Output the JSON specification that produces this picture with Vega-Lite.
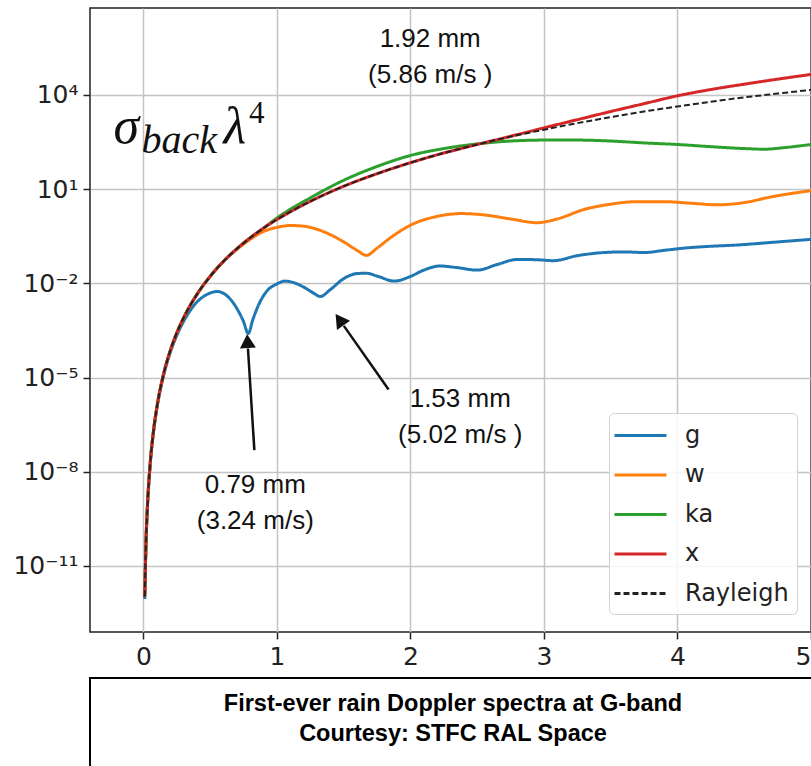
{
  "$schema": "https://vega.github.io/schema/vega-lite/v6.json",
  "background": "white",
  "padding": {"left": 12, "top": 7, "right": 0, "bottom": 0},
  "bounds": "flush",
  "spacing": 46,
  "config": {
    "font": "DejaVu Sans",
    "axis": {"domain": false, "title": null, "grid": true, "gridColor": "#c4c4c4", "gridWidth": 1.5, "tickColor": "#222", "tickWidth": 1.5, "tickSize": 7, "labelFontSize": 25, "labelColor": "#222", "labelPadding": 5, "labelFont": "DejaVu Sans"},
    "legend": {"title": null, "orient": "none", "legendX": 519, "legendY": 405, "symbolType": "M-2,0H2", "symbolSize": 676, "symbolStrokeWidth": 3, "labelFontSize": 24, "labelColor": "#222", "labelFont": "DejaVu Sans", "rowPadding": 12.5, "padding": 8, "symbolOffset": 9, "labelOffset": 30, "fillColor": "rgba(255,255,255,0.85)", "strokeColor": "#d0d0d0", "cornerRadius": 5}
  },
  "datasets": {
    "curves": [
      {"band":"g","D":0.01,"sigma":8.9e-13},{"band":"g","D":0.02,"sigma":6.31e-11},{"band":"g","D":0.03,"sigma":7.08e-10},{"band":"g","D":0.05,"sigma":1.51e-8},{"band":"g","D":0.075,"sigma":1.74e-7},{"band":"g","D":0.1,"sigma":9.77e-7},{"band":"g","D":0.15,"sigma":1.1e-5},{"band":"g","D":0.2,"sigma":6.03e-5},{"band":"g","D":0.25,"sigma":2.19e-4},{"band":"g","D":0.3,"sigma":6.03e-4},{"band":"g","D":0.35,"sigma":1.35e-3},{"band":"g","D":0.4,"sigma":2.51e-3},{"band":"g","D":0.45,"sigma":3.8e-3},{"band":"g","D":0.5,"sigma":4.9e-3},{"band":"g","D":0.55,"sigma":5.5e-3},{"band":"g","D":0.6,"sigma":4.79e-3},{"band":"g","D":0.65,"sigma":3.16e-3},{"band":"g","D":0.7,"sigma":1.58e-3},{"band":"g","D":0.75,"sigma":6.03e-4},{"band":"g","D":0.785,"sigma":2.51e-4},{"band":"g","D":0.82,"sigma":7.08e-4},{"band":"g","D":0.87,"sigma":2.4e-3},{"band":"g","D":0.92,"sigma":5.37e-3},{"band":"g","D":1.0,"sigma":9.55e-3},{"band":"g","D":1.06,"sigma":1.175e-2},{"band":"g","D":1.12,"sigma":1.07e-2},{"band":"g","D":1.2,"sigma":7.59e-3},{"band":"g","D":1.27,"sigma":5.01e-3},{"band":"g","D":1.325,"sigma":3.8e-3},{"band":"g","D":1.4,"sigma":6.31e-3},{"band":"g","D":1.5,"sigma":1.41e-2},{"band":"g","D":1.6,"sigma":2.04e-2},{"band":"g","D":1.67,"sigma":2.09e-2},{"band":"g","D":1.75,"sigma":1.7e-2},{"band":"g","D":1.88,"sigma":1.175e-2},{"band":"g","D":2.0,"sigma":1.66e-2},{"band":"g","D":2.1,"sigma":2.63e-2},{"band":"g","D":2.22,"sigma":3.55e-2},{"band":"g","D":2.35,"sigma":3.16e-2},{"band":"g","D":2.5,"sigma":2.63e-2},{"band":"g","D":2.65,"sigma":3.98e-2},{"band":"g","D":2.8,"sigma":5.75e-2},{"band":"g","D":2.95,"sigma":5.62e-2},{"band":"g","D":3.07,"sigma":5.25e-2},{"band":"g","D":3.25,"sigma":7.59e-2},{"band":"g","D":3.45,"sigma":9.55e-2},{"band":"g","D":3.6,"sigma":0.1},{"band":"g","D":3.75,"sigma":9.55e-2},{"band":"g","D":3.9,"sigma":0.112},{"band":"g","D":4.05,"sigma":0.132},{"band":"g","D":4.25,"sigma":0.151},{"band":"g","D":4.45,"sigma":0.166},{"band":"g","D":4.7,"sigma":0.2},{"band":"g","D":5.0,"sigma":0.251},
      {"band":"w","D":0.01,"sigma":1.07e-12},{"band":"w","D":0.02,"sigma":6.92e-11},{"band":"w","D":0.03,"sigma":7.76e-10},{"band":"w","D":0.05,"sigma":1.66e-8},{"band":"w","D":0.075,"sigma":1.91e-7},{"band":"w","D":0.1,"sigma":1.07e-6},{"band":"w","D":0.15,"sigma":1.23e-5},{"band":"w","D":0.2,"sigma":6.92e-5},{"band":"w","D":0.25,"sigma":2.63e-4},{"band":"w","D":0.3,"sigma":7.76e-4},{"band":"w","D":0.4,"sigma":4.37e-3},{"band":"w","D":0.5,"sigma":1.66e-2},{"band":"w","D":0.6,"sigma":5.01e-2},{"band":"w","D":0.7,"sigma":0.12},{"band":"w","D":0.8,"sigma":0.251},{"band":"w","D":0.9,"sigma":0.447},{"band":"w","D":1.0,"sigma":0.603},{"band":"w","D":1.1,"sigma":0.692},{"band":"w","D":1.2,"sigma":0.661},{"band":"w","D":1.3,"sigma":0.525},{"band":"w","D":1.4,"sigma":0.355},{"band":"w","D":1.5,"sigma":0.209},{"band":"w","D":1.6,"sigma":0.112},{"band":"w","D":1.67,"sigma":0.0776},{"band":"w","D":1.75,"sigma":0.132},{"band":"w","D":1.85,"sigma":0.282},{"band":"w","D":2.0,"sigma":0.708},{"band":"w","D":2.2,"sigma":1.35},{"band":"w","D":2.38,"sigma":1.66},{"band":"w","D":2.55,"sigma":1.51},{"band":"w","D":2.75,"sigma":1.12},{"band":"w","D":2.95,"sigma":0.851},{"band":"w","D":3.1,"sigma":1.12},{"band":"w","D":3.3,"sigma":2.24},{"band":"w","D":3.5,"sigma":3.31},{"band":"w","D":3.7,"sigma":3.98},{"band":"w","D":3.9,"sigma":3.98},{"band":"w","D":4.1,"sigma":3.55},{"band":"w","D":4.3,"sigma":3.16},{"band":"w","D":4.5,"sigma":3.72},{"band":"w","D":4.7,"sigma":5.62},{"band":"w","D":5.0,"sigma":8.91},
      {"band":"ka","D":0.01,"sigma":1.07e-12},{"band":"ka","D":0.02,"sigma":6.92e-11},{"band":"ka","D":0.03,"sigma":7.76e-10},{"band":"ka","D":0.05,"sigma":1.66e-8},{"band":"ka","D":0.075,"sigma":1.91e-7},{"band":"ka","D":0.1,"sigma":1.07e-6},{"band":"ka","D":0.15,"sigma":1.23e-5},{"band":"ka","D":0.2,"sigma":6.92e-5},{"band":"ka","D":0.25,"sigma":2.63e-4},{"band":"ka","D":0.3,"sigma":7.76e-4},{"band":"ka","D":0.4,"sigma":4.37e-3},{"band":"ka","D":0.5,"sigma":1.66e-2},{"band":"ka","D":0.6,"sigma":5.01e-2},{"band":"ka","D":0.7,"sigma":0.126},{"band":"ka","D":0.8,"sigma":0.282},{"band":"ka","D":0.9,"sigma":0.575},{"band":"ka","D":1.0,"sigma":1.2},{"band":"ka","D":1.25,"sigma":5.25},{"band":"ka","D":1.5,"sigma":19.05},{"band":"ka","D":1.75,"sigma":52.5},{"band":"ka","D":2.0,"sigma":117.5},{"band":"ka","D":2.25,"sigma":195},{"band":"ka","D":2.5,"sigma":275},{"band":"ka","D":2.75,"sigma":339},{"band":"ka","D":3.0,"sigma":363},{"band":"ka","D":3.25,"sigma":363},{"band":"ka","D":3.5,"sigma":339},{"band":"ka","D":3.75,"sigma":295},{"band":"ka","D":4.0,"sigma":263},{"band":"ka","D":4.25,"sigma":224},{"band":"ka","D":4.5,"sigma":195},{"band":"ka","D":4.65,"sigma":186},{"band":"ka","D":4.8,"sigma":209},{"band":"ka","D":5.0,"sigma":263},
      {"band":"x","D":0.01,"sigma":1.07e-12},{"band":"x","D":0.02,"sigma":6.92e-11},{"band":"x","D":0.03,"sigma":7.76e-10},{"band":"x","D":0.05,"sigma":1.66e-8},{"band":"x","D":0.075,"sigma":1.91e-7},{"band":"x","D":0.1,"sigma":1.07e-6},{"band":"x","D":0.15,"sigma":1.23e-5},{"band":"x","D":0.2,"sigma":6.92e-5},{"band":"x","D":0.25,"sigma":2.63e-4},{"band":"x","D":0.3,"sigma":7.76e-4},{"band":"x","D":0.4,"sigma":4.37e-3},{"band":"x","D":0.5,"sigma":1.66e-2},{"band":"x","D":0.6,"sigma":5.01e-2},{"band":"x","D":0.7,"sigma":0.126},{"band":"x","D":0.8,"sigma":0.282},{"band":"x","D":0.9,"sigma":0.575},{"band":"x","D":1.0,"sigma":1.07},{"band":"x","D":1.25,"sigma":4.07},{"band":"x","D":1.5,"sigma":12.3},{"band":"x","D":1.75,"sigma":30.9},{"band":"x","D":2.0,"sigma":69.2},{"band":"x","D":2.25,"sigma":141},{"band":"x","D":2.5,"sigma":263},{"band":"x","D":2.75,"sigma":479},{"band":"x","D":3.0,"sigma":891},{"band":"x","D":3.25,"sigma":1622},{"band":"x","D":3.5,"sigma":2951},{"band":"x","D":3.75,"sigma":5248},{"band":"x","D":4.0,"sigma":9333},{"band":"x","D":4.25,"sigma":14791},{"band":"x","D":4.5,"sigma":21878},{"band":"x","D":4.75,"sigma":31623},{"band":"x","D":5.0,"sigma":44668},
      {"band":"Rayleigh","D":0.01,"sigma":1.07e-12},{"band":"Rayleigh","D":0.02,"sigma":6.92e-11},{"band":"Rayleigh","D":0.03,"sigma":7.76e-10},{"band":"Rayleigh","D":0.05,"sigma":1.66e-8},{"band":"Rayleigh","D":0.075,"sigma":1.91e-7},{"band":"Rayleigh","D":0.1,"sigma":1.07e-6},{"band":"Rayleigh","D":0.15,"sigma":1.23e-5},{"band":"Rayleigh","D":0.2,"sigma":6.92e-5},{"band":"Rayleigh","D":0.25,"sigma":2.63e-4},{"band":"Rayleigh","D":0.3,"sigma":7.76e-4},{"band":"Rayleigh","D":0.4,"sigma":4.37e-3},{"band":"Rayleigh","D":0.5,"sigma":1.66e-2},{"band":"Rayleigh","D":0.6,"sigma":5.01e-2},{"band":"Rayleigh","D":0.7,"sigma":0.126},{"band":"Rayleigh","D":0.8,"sigma":0.282},{"band":"Rayleigh","D":0.9,"sigma":0.575},{"band":"Rayleigh","D":1.0,"sigma":1.07},{"band":"Rayleigh","D":1.25,"sigma":4.07},{"band":"Rayleigh","D":1.5,"sigma":12.3},{"band":"Rayleigh","D":1.75,"sigma":30.9},{"band":"Rayleigh","D":2.0,"sigma":69.2},{"band":"Rayleigh","D":2.25,"sigma":141},{"band":"Rayleigh","D":2.5,"sigma":263},{"band":"Rayleigh","D":2.75,"sigma":468},{"band":"Rayleigh","D":3.0,"sigma":776},{"band":"Rayleigh","D":3.25,"sigma":1259},{"band":"Rayleigh","D":3.5,"sigma":1950},{"band":"Rayleigh","D":3.75,"sigma":2951},{"band":"Rayleigh","D":4.0,"sigma":4266},{"band":"Rayleigh","D":4.25,"sigma":6026},{"band":"Rayleigh","D":4.5,"sigma":8318},{"band":"Rayleigh","D":4.75,"sigma":10965},{"band":"Rayleigh","D":5.0,"sigma":14454}
    ]
  },
  "vconcat": [
    {
      "width": 721,
      "height": 624,
      "view": {"stroke": "#222", "strokeWidth": 1.5},
      "layer": [
        {
          "data": {"name": "curves"},
          "transform": [{"filter": "datum.band != 'Rayleigh'"}],
          "mark": {"type": "line", "interpolate": "monotone", "clip": true, "strokeWidth": 3},
          "encoding": {
            "x": {"field": "D", "type": "quantitative", "scale": {"domain": [-0.4, 5.0], "nice": false, "zero": false}, "axis": {"values": [0, 1, 2, 3, 4, 5], "format": "d"}},
            "y": {"field": "sigma", "type": "quantitative", "scale": {"type": "log", "domain": [7.9e-14, 5.83e6], "nice": false}, "axis": {"values": [1e-11, 1e-8, 1e-5, 1e-2, 10, 10000], "labelExpr": "datum.value < 1e-10 ? '10⁻¹¹' : datum.value < 1e-7 ? '10⁻⁸' : datum.value < 1e-4 ? '10⁻⁵' : datum.value < 0.1 ? '10⁻²' : datum.value < 100 ? '10¹' : '10⁴'"}},
            "color": {"field": "band", "type": "nominal", "scale": {"domain": ["g", "w", "ka", "x", "Rayleigh"], "range": ["#1f77b4", "#ff7f0e", "#2ca02c", "#d62728", "#222222"]}},
            "strokeDash": {"field": "band", "type": "nominal", "scale": {"domain": ["g", "w", "ka", "x", "Rayleigh"], "range": [[1, 0], [1, 0], [1, 0], [1, 0], [6, 3]]}}
          }
        },
        {
          "data": {"name": "curves"},
          "transform": [{"filter": "datum.band == 'Rayleigh'"}],
          "mark": {"type": "line", "interpolate": "monotone", "clip": true, "strokeWidth": 2},
          "encoding": {
            "x": {"field": "D", "type": "quantitative"},
            "y": {"field": "sigma", "type": "quantitative"},
            "color": {"field": "band", "type": "nominal"},
            "strokeDash": {"field": "band", "type": "nominal"}
          }
        },
        {
          "data": {"values": [
            {"D": 2.148, "sigma": 344000, "t": "1.92 mm\n(5.86 m/s )"},
            {"D": 2.373, "sigma": 1.17e-6, "t": "1.53 mm\n(5.02 m/s )"},
            {"D": 0.838, "sigma": 2.1e-9, "t": "0.79 mm\n(3.24 m/s)"}
          ]},
          "mark": {"type": "text", "align": "center", "baseline": "alphabetic", "lineBreak": "\n", "lineHeight": 36, "fontSize": 26, "font": "Liberation Sans", "color": "#111"},
          "encoding": {
            "x": {"field": "D", "type": "quantitative"},
            "y": {"field": "sigma", "type": "quantitative"},
            "text": {"field": "t"}
          }
        },
        {
          "data": {"values": [{"D": -0.2246, "sigma": 283, "t": "σ"}, {"D": 0.599, "sigma": 283, "t": "λ"}]},
          "mark": {"type": "text", "align": "left", "baseline": "alphabetic", "fontSize": 52, "font": "Liberation Serif", "fontStyle": "italic", "color": "#111"},
          "encoding": {"x": {"field": "D", "type": "quantitative"}, "y": {"field": "sigma", "type": "quantitative"}, "text": {"field": "t"}}
        },
        {
          "data": {"values": [{"D": -0.015, "sigma": 146, "t": "back"}]},
          "mark": {"type": "text", "align": "left", "baseline": "alphabetic", "fontSize": 40, "font": "Liberation Serif", "fontStyle": "italic", "color": "#111"},
          "encoding": {"x": {"field": "D", "type": "quantitative"}, "y": {"field": "sigma", "type": "quantitative"}, "text": {"field": "t"}}
        },
        {
          "data": {"values": [{"D": 0.79, "sigma": 1315, "t": "4"}]},
          "mark": {"type": "text", "align": "left", "baseline": "alphabetic", "fontSize": 31, "font": "Liberation Serif", "color": "#111"},
          "encoding": {"x": {"field": "D", "type": "quantitative"}, "y": {"field": "sigma", "type": "quantitative"}, "text": {"field": "t"}}
        },
        {
          "data": {"values": [
            {"D": 0.831, "sigma": 4.9e-8, "D2": 0.783, "sigma2": 8.4e-5},
            {"D": 1.836, "sigma": 4.17e-6, "D2": 1.5015, "sigma2": 4.42e-4}
          ]},
          "mark": {"type": "rule", "strokeWidth": 2.5, "color": "#111"},
          "encoding": {
            "x": {"field": "D", "type": "quantitative"},
            "y": {"field": "sigma", "type": "quantitative"},
            "x2": {"field": "D2"},
            "y2": {"field": "sigma2"}
          }
        },
        {
          "data": {"values": [{"D": 0.7796, "sigma": 1.45e-4}]},
          "mark": {"type": "point", "shape": "triangle-up", "filled": true, "size": 256, "angle": 356.6, "color": "#111", "opacity": 1},
          "encoding": {"x": {"field": "D", "type": "quantitative"}, "y": {"field": "sigma", "type": "quantitative"}}
        },
        {
          "data": {"values": [{"D": 1.469, "sigma": 6.9e-4}]},
          "mark": {"type": "point", "shape": "triangle-up", "filled": true, "size": 256, "angle": 325, "color": "#111", "opacity": 1},
          "encoding": {"x": {"field": "D", "type": "quantitative"}, "y": {"field": "sigma", "type": "quantitative"}}
        }
      ]
    },
    {
      "width": 726,
      "height": 95,
      "view": {"stroke": "black", "strokeWidth": 2},
      "data": {"values": [{"t": "First-ever rain Doppler spectra at G-band\nCourtesy: STFC RAL Space"}]},
      "mark": {"type": "text", "align": "center", "baseline": "middle", "lineBreak": "\n", "lineHeight": 30, "dy": -22, "fontSize": 23.5, "fontWeight": "bold", "font": "Liberation Sans", "color": "black"},
      "encoding": {"text": {"field": "t"}}
    }
  ]
}
